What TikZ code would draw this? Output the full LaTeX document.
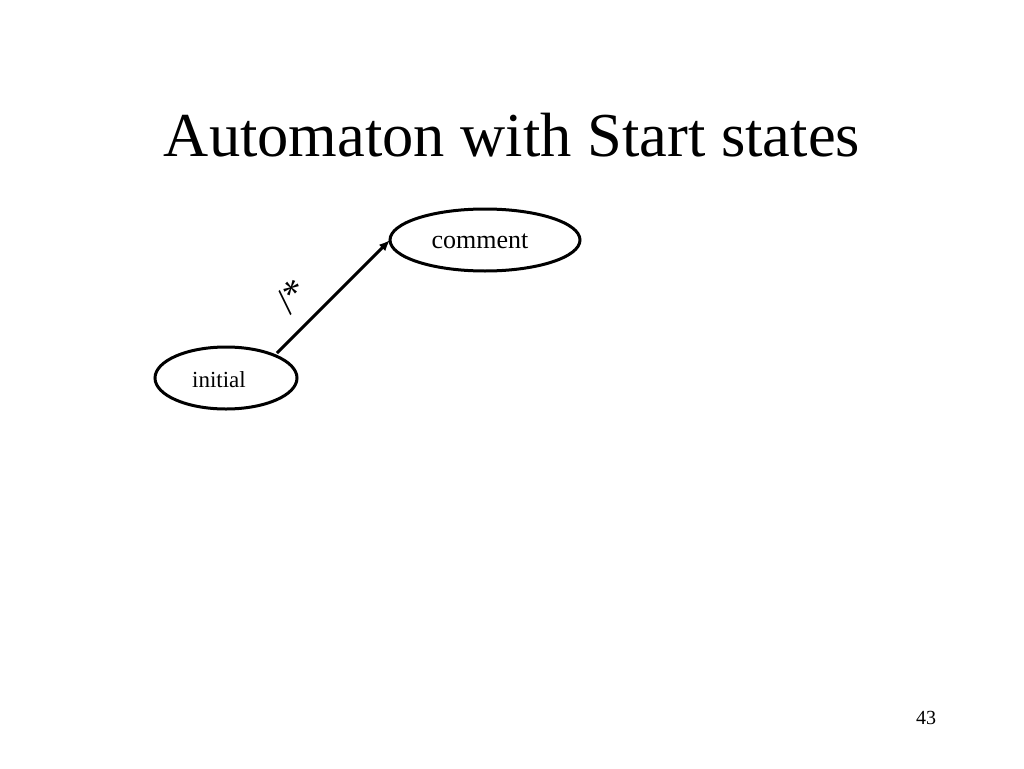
\documentclass[tikz,border=0pt]{standalone}
\usepackage{fontspec}
\usetikzlibrary{shapes.geometric,arrows.meta}
\setmainfont{Liberation Serif}
\begin{document}
\begin{tikzpicture}[x=1pt,y=-1pt,
  ed/.style={line width=3pt,-{Latex[length=11pt,width=9pt]}}]
\useasboundingbox (0,0) rectangle (1024,768);
\node[font=\fontsize{62.5}{64}\selectfont] (t) at (512,135) {Automaton with Start states};
\draw[line width=3pt] (485,240) ellipse [x radius=95, y radius=31];
\node[minimum width=190pt,minimum height=62pt,ellipse,inner sep=0pt] (c) at (485,240) {};
\node[font=\fontsize{26}{28}\selectfont] (ct) at (480,241) {comment};
\draw[line width=3pt] (226,378) ellipse [x radius=71, y radius=31];
\node[minimum width=142pt,minimum height=62pt,ellipse,inner sep=0pt] (i) at (226,378) {};
\node[font=\fontsize{23}{24}\selectfont] (it) at (219,380) {initial};
\coordinate (a) at (277,353);
\coordinate (b) at (390,240);
\draw[ed] (a) -- (b);
\node[font=\fontsize{38}{40}\selectfont,rotate=45] (l) at (292,296) {/*};
\node[font=\fontsize{20}{22}\selectfont] (n) at (926,718) {43};
\end{tikzpicture}
\end{document}
